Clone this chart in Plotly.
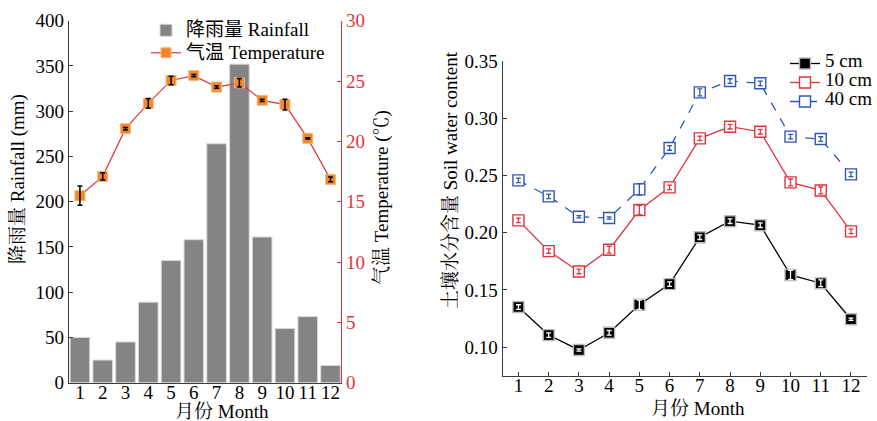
import plotly.graph_objects as go

months = list(range(1, 13))
month_labels = [str(m) for m in months]

rainfall = [50, 25, 45, 89, 135, 158, 264, 352, 161, 60, 73, 19]
temperature = [15.5, 17.1, 21.05, 23.15, 25.05, 25.45, 24.5, 24.85, 23.4, 23.05, 20.25, 16.85]
temperature_err = [0.8, 0.3, 0.1, 0.4, 0.35, 0.1, 0.1, 0.35, 0.1, 0.45, 0.05, 0.2]

swc_5 = [0.135, 0.1105, 0.0975, 0.1125, 0.137, 0.155, 0.196, 0.210, 0.2065, 0.163, 0.1558, 0.1243]
swc_5_err = [0.002, 0.002, 0.001, 0.002, 0.004, 0.002, 0.002, 0.002, 0.002, 0.004, 0.003, 0.001]
swc_10 = [0.2107, 0.1839, 0.1661, 0.1851, 0.2198, 0.2396, 0.2824, 0.2926, 0.2882, 0.2439, 0.2369, 0.2011]
swc_10_err = [0.002, 0.002, 0.002, 0.003, 0.004, 0.002, 0.002, 0.002, 0.002, 0.003, 0.003, 0.002]
swc_40 = [0.2457, 0.2317, 0.2139, 0.2128, 0.2378, 0.2740, 0.3226, 0.3325, 0.3305, 0.2839, 0.2818, 0.2509]
swc_40_err = [0.002, 0.002, 0.001, 0.001, 0.005, 0.002, 0.003, 0.002, 0.002, 0.002, 0.002, 0.002]

FONT = "Liberation Serif, Times New Roman, Noto Serif CJK SC, Noto Sans CJK SC, serif"
RED = "#e0353f"
ORANGE = "#f0882a"
BLUE = "#2f55b5"
GRAY = "#858385"
AXIS = "#3c3c3c"
FS = 19

W, H = 877, 421
def px_x(a, b):
    return [a / W, b / W]
def px_y(top, bottom):
    return [1 - bottom / H, 1 - top / H]

def big(t):
    return f'<span style="font-size:{FS}px;font-family:\'Liberation Serif\', \'Noto Sans CJK SC\', serif">{t}</span>'

fig = go.Figure()

# Left chart: rainfall bars
fig.add_trace(go.Bar(x=months, y=rainfall, name=big("降雨量 Rainfall"),
                     marker=dict(color=GRAY, line=dict(color="#d8d8d8", width=1)),
                     width=0.86, xaxis="x", yaxis="y", legend="legend"))
# Temperature line
fig.add_trace(go.Scatter(x=months, y=temperature, name=big("气温 Temperature"),
                         mode="lines+markers",
                         line=dict(color=RED, width=1.2),
                         marker=dict(symbol="square", size=10, color=ORANGE,
                                     line=dict(color="#f6b679", width=1)),
                         xaxis="x", yaxis="y2", legend="legend"))
fig.add_trace(go.Scatter(x=months, y=temperature, mode="markers", showlegend=False,
                         marker=dict(size=2, opacity=0),
                         error_y=dict(type="data", array=temperature_err, color="black",
                                      thickness=1.5, width=2.5),
                         xaxis="x", yaxis="y2", hoverinfo="skip"))

# Right chart: soil water content
series = [
    ("5 cm", swc_5, swc_5_err, "black", "black", "solid", "white", "#bbbbbb"),
    ("10 cm", swc_10, swc_10_err, RED, "white", "solid", RED, RED),
    ("40 cm", swc_40, swc_40_err, BLUE, "white", "dash", BLUE, BLUE),
]
for name, vals, errs, col, fill, dash, ecol, mline in series:
    fig.add_trace(go.Scatter(x=months, y=vals, name=big(name), mode="lines+markers",
                             line=dict(color=col, width=1.3, dash=dash),
                             marker=dict(symbol="square", size=11, color=fill,
                                         line=dict(color=mline, width=1.4)),
                             xaxis="x2", yaxis="y3", legend="legend2"))
for name, vals, errs, col, fill, dash, ecol, mline in series:
    fig.add_trace(go.Scatter(x=months, y=vals, mode="markers", showlegend=False,
                             marker=dict(size=2, opacity=0),
                             error_y=dict(type="data", array=errs, color=ecol,
                                          thickness=1.3, width=2.5),
                             xaxis="x2", yaxis="y3", hoverinfo="skip"))

axis_common = dict(showgrid=False, zeroline=False, linecolor=AXIS, linewidth=1.4,
                   automargin=False, ticks="inside", ticklen=4, tickcolor=AXIS,
                   tickfont=dict(family=FONT, size=FS, color="black"))

def title_ann(text, cx, cy, angle=0):
    return dict(text=text, x=cx / W, y=1 - cy / H, xref="paper", yref="paper",
                xanchor="center", yanchor="middle", textangle=angle, showarrow=False,
                font=dict(family=FONT, size=FS, color="black"))

fig.update_layout(
    template="none",
    width=W, height=H,
    margin=dict(l=0, r=0, t=0, b=0, autoexpand=False),
    paper_bgcolor="white", plot_bgcolor="white",
    font=dict(family=FONT, size=FS, color="black"),
    xaxis=dict(domain=px_x(69, 341), range=[0.52, 12.46], tickmode="array",
               tickvals=months, ticktext=month_labels, anchor="y",
               showline=True, **{**axis_common, "ticklen": 0}, ticklabelstandoff=-8),
    yaxis=dict(domain=px_y(20.7, 382.7), range=[0, 400], dtick=50,
               showline=True, anchor="x", **axis_common),
    yaxis2=dict(domain=px_y(20.7, 382.7), range=[0, 30], dtick=5, overlaying="y",
                side="right", anchor="x", ticks="inside", ticklen=4, tickcolor=RED,
                showline=True, showgrid=False, zeroline=False, linecolor=RED, linewidth=1.4,
                automargin=False,
                tickfont=dict(family=FONT, size=FS, color=RED)),
    xaxis2=dict(domain=px_x(502.7, 866.7), range=[0.48, 12.52], tickmode="array",
                tickvals=months, ticktext=month_labels,
                anchor="y3", showline=True, **axis_common, ticklabelstandoff=-8),
    yaxis3=dict(domain=px_y(61, 375.7), range=[0.075, 0.35],
                tickvals=[0.10, 0.15, 0.20, 0.25, 0.30, 0.35],
                tickformat=".2f", anchor="x2", showline=True, **axis_common),
    legend=dict(x=146 / W, y=1 - 14 / H, xanchor="left", yanchor="top",
                bgcolor="rgba(0,0,0,0)", font=dict(family=FONT, size=15),
                itemwidth=30, tracegroupgap=0),
    legend2=dict(x=785 / W, y=1 - 49 / H, xanchor="left", yanchor="top",
                 bgcolor="rgba(0,0,0,0)", font=dict(family=FONT, size=10),
                 itemwidth=30, tracegroupgap=0),
    annotations=[
        title_ann("降雨量 Rainfall (mm)", 18, 179, -90),
        title_ann("气温 Temperature (℃)", 382, 198, -90),
        title_ann("月份 Month", 222, 411),
        title_ann("土壤水分含量 Soil water content", 450, 180, -90),
        title_ann("月份 Month", 698, 408),
    ],
)

fig.write_html("out.html")
